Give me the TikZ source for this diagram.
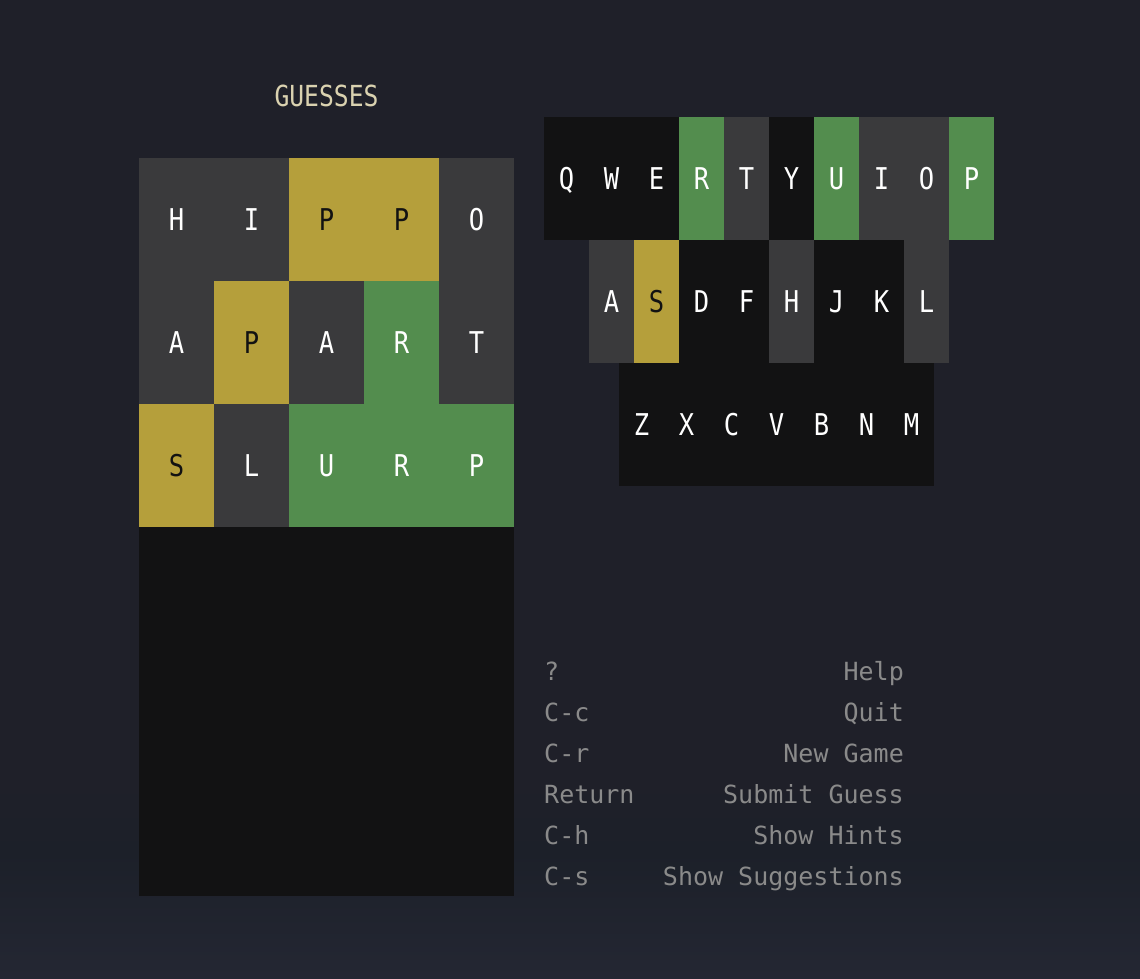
\documentclass[tikz,border=0pt]{standalone}
\usepackage{fontspec}
\usepackage{tikz}
\newfontfamily\tilefont[FakeStretch=0.85]{DejaVu Sans Mono}
\newfontfamily\helpfont{DejaVu Sans Mono}
\definecolor{bgbase}{HTML}{1F2029}
\definecolor{bgband}{HTML}{2C2D35}
\definecolor{bgblue}{HTML}{1C2029}
\definecolor{bgfoot}{HTML}{242733}
\definecolor{wabsent}{HTML}{3A3A3C}
\definecolor{wpresent}{HTML}{B59F3B}
\definecolor{wcorrect}{HTML}{538D4E}
\definecolor{wempty}{HTML}{121213}
\definecolor{wdark}{HTML}{121212}
\definecolor{wtitle}{HTML}{DAD2B0}
\definecolor{whelp}{HTML}{8A8A8A}

\begin{document}
\begin{tikzpicture}[x=1pt,y=-1pt,
  tile/.style={minimum width=75pt,minimum height=123pt,inner sep=0pt,outer sep=0pt,text height=22pt,text depth=0pt,font=\tilefont\fontsize{30}{30}\selectfont},
  key/.style={tile,minimum width=45pt},
  absent/.style={fill=wabsent,text=white},
  present/.style={fill=wpresent,text=wdark},
  correct/.style={fill=wcorrect,text=white},
  unused/.style={fill=wempty,text=white},
  helpkey/.style={anchor=base west,inner sep=0pt,text=whelp,font=\helpfont\fontsize{25}{25}\selectfont},
  helpdesc/.style={helpkey,anchor=base east}]
\useasboundingbox (0,0) rectangle (1140,978);
% background
\fill[bgbase] (0,0) rectangle (1140,978);
\fill[top color=bgbase,middle color=bgband,bottom color=bgbase] (0,70) rectangle (1140,124);
\fill[top color=bgbase,middle color=bgblue,bottom color=bgbase] (0,118) rectangle (1140,160);
\fill[top color=bgbase,middle color=bgband,bottom color=bgblue] (0,782) rectangle (1140,852);
\fill[top color=bgblue,bottom color=bgfoot] (0,852) rectangle (1140,978);
\node[text=wtitle,font=\tilefont\fontsize{29}{29}\selectfont] (title) at (326.5,95.5) {GUESSES};
% guesses
\node[tile,absent] (g11) at (176.5,219.5) {H};
\node[tile,absent] (g12) at (251.5,219.5) {I};
\node[tile,present] (g13) at (326.5,219.5) {P};
\node[tile,present] (g14) at (401.5,219.5) {P};
\node[tile,absent] (g15) at (476.5,219.5) {O};
\node[tile,absent] (g21) at (176.5,342.5) {A};
\node[tile,present] (g22) at (251.5,342.5) {P};
\node[tile,absent] (g23) at (326.5,342.5) {A};
\node[tile,correct] (g24) at (401.5,342.5) {R};
\node[tile,absent] (g25) at (476.5,342.5) {T};
\node[tile,present] (g31) at (176.5,465.5) {S};
\node[tile,absent] (g32) at (251.5,465.5) {L};
\node[tile,correct] (g33) at (326.5,465.5) {U};
\node[tile,correct] (g34) at (401.5,465.5) {R};
\node[tile,correct] (g35) at (476.5,465.5) {P};
\node[tile,unused,minimum width=375pt,minimum height=369pt] (rest) at (326.5,711.5) {};
% keyboard
\node[key,unused] (kQ) at (566.5,178.5) {Q};
\node[key,unused] (kW) at (611.5,178.5) {W};
\node[key,unused] (kE) at (656.5,178.5) {E};
\node[key,correct] (kR) at (701.5,178.5) {R};
\node[key,absent] (kT) at (746.5,178.5) {T};
\node[key,unused] (kY) at (791.5,178.5) {Y};
\node[key,correct] (kU) at (836.5,178.5) {U};
\node[key,absent] (kI) at (881.5,178.5) {I};
\node[key,absent] (kO) at (926.5,178.5) {O};
\node[key,correct] (kP) at (971.5,178.5) {P};
\node[key,absent] (kA) at (611.5,301.5) {A};
\node[key,present] (kS) at (656.5,301.5) {S};
\node[key,unused] (kD) at (701.5,301.5) {D};
\node[key,unused] (kF) at (746.5,301.5) {F};
\node[key,absent] (kH) at (791.5,301.5) {H};
\node[key,unused] (kJ) at (836.5,301.5) {J};
\node[key,unused] (kK) at (881.5,301.5) {K};
\node[key,absent] (kL) at (926.5,301.5) {L};
\node[key,unused] (kZ) at (641.5,424.5) {Z};
\node[key,unused] (kX) at (686.5,424.5) {X};
\node[key,unused] (kC) at (731.5,424.5) {C};
\node[key,unused] (kV) at (776.5,424.5) {V};
\node[key,unused] (kB) at (821.5,424.5) {B};
\node[key,unused] (kN) at (866.5,424.5) {N};
\node[key,unused] (kM) at (911.5,424.5) {M};
% help
\node[helpkey] (hk1) at (544,680) {?};
\node[helpdesc] (hd1) at (904,680) {Help};
\node[helpkey] (hk2) at (544,721) {C-c};
\node[helpdesc] (hd2) at (904,721) {Quit};
\node[helpkey] (hk3) at (544,762) {C-r};
\node[helpdesc] (hd3) at (904,762) {New Game};
\node[helpkey] (hk4) at (544,803) {Return};
\node[helpdesc] (hd4) at (904,803) {Submit Guess};
\node[helpkey] (hk5) at (544,844) {C-h};
\node[helpdesc] (hd5) at (904,844) {Show Hints};
\node[helpkey] (hk6) at (544,885) {C-s};
\node[helpdesc] (hd6) at (904,885) {Show Suggestions};
\end{tikzpicture}
\end{document}
